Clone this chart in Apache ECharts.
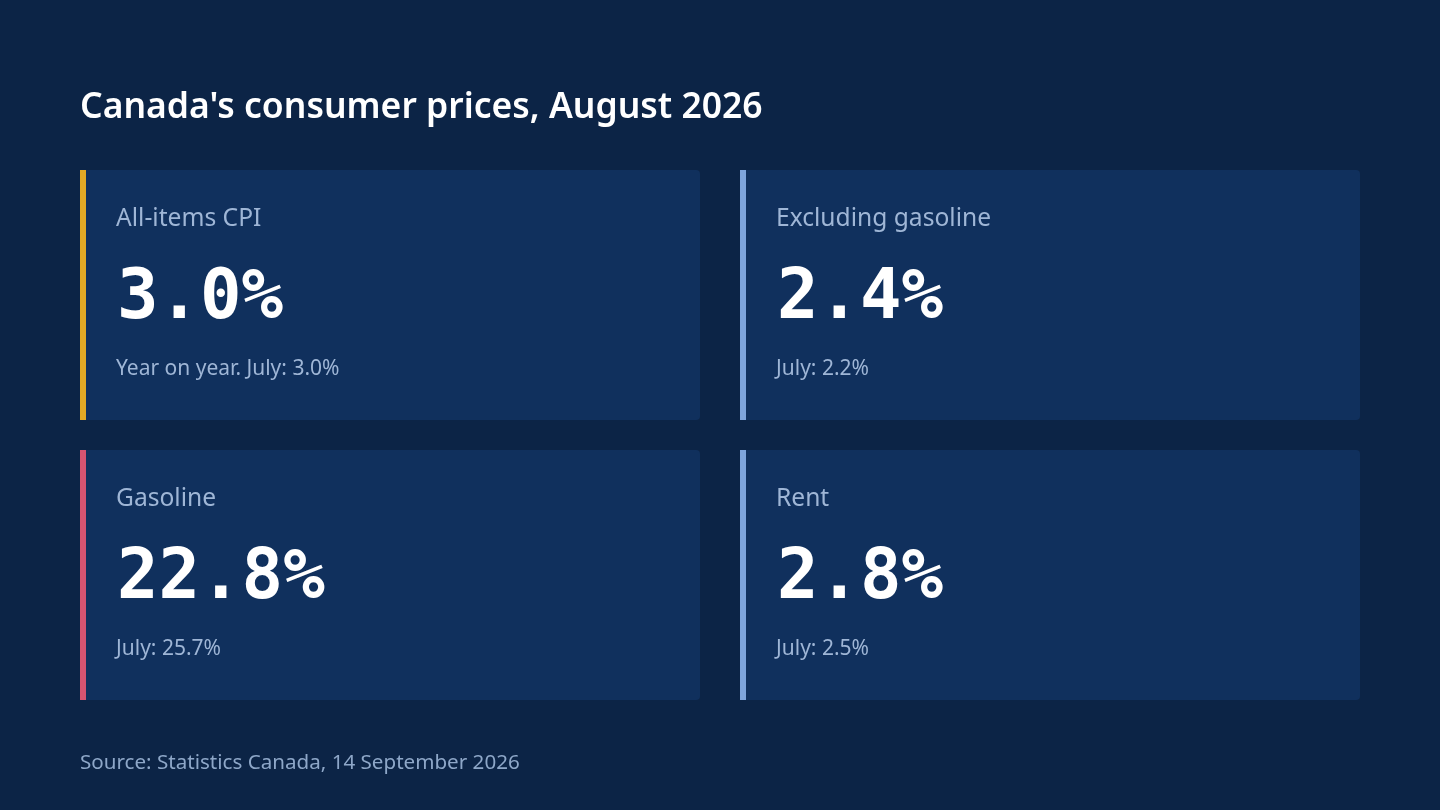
<!DOCTYPE html>
<html>
<head>
<meta charset="utf-8">
<script src="https://cdn.jsdelivr.net/npm/echarts@6/dist/echarts.min.js"></script>
<style>
  html, body { margin: 0; padding: 0; background: #0c2446; }
  #main { width: 1440px; height: 810px; }
</style>
</head>
<body>
<div id="main"></div>
<script>
var titleText = "Canada's consumer prices, August 2026";
var sourceText = 'Source: Statistics Canada, 14 September 2026';

var labels = ['All-items CPI', 'Excluding gasoline', 'Gasoline', 'Rent'];
var values = [3.0, 2.4, 22.8, 2.8];
var notes = ['Year on year. July: 3.0%', 'July: 2.2%', 'July: 25.7%', 'July: 2.5%'];
var accents = ['#e2a925', '#7ea5dc', '#d65471', '#7ea5dc'];

var chart = echarts.init(document.getElementById('main'));

// card grid
var colX = [80, 740];
var rowY = [170, 450];
var cardW = 620, cardH = 250;

var sans = '"Segoe UI", "Noto Sans", "Open Sans", sans-serif';
var mono = '"DejaVu Sans Mono", monospace';

var elements = [];
labels.forEach(function (lab, i) {
  var x = colX[i % 2], y = rowY[Math.floor(i / 2)];
  elements.push({
    type: 'rect',
    shape: { x: x, y: y, width: cardW, height: cardH, r: [0, 4, 4, 0] },
    style: { fill: '#10305d' }
  });
  elements.push({
    type: 'rect',
    shape: { x: x, y: y, width: 6, height: cardH },
    style: { fill: accents[i] }
  });
  elements.push({
    type: 'text',
    x: x + 36, y: y + 49,
    style: { text: lab, fill: '#9fb6d6', font: '24.6px ' + sans, verticalAlign: 'middle' }
  });
  elements.push({
    type: 'text',
    x: x + 37, y: y + 130,
    style: { text: values[i].toFixed(1) + '%', fill: '#ffffff', font: 'bold 69px ' + mono, verticalAlign: 'middle' }
  });
  elements.push({
    type: 'text',
    x: x + 36, y: y + 199,
    style: { text: notes[i], fill: '#9fb6d6', font: '21px ' + sans, verticalAlign: 'middle' }
  });
});

elements.push({
  type: 'text',
  x: 80, y: 108,
  style: { text: titleText, fill: '#ffffff', font: '600 35.5px ' + sans, verticalAlign: 'middle' }
});
elements.push({
  type: 'text',
  x: 80, y: 763,
  style: { text: sourceText, fill: '#8ea7c8', font: '20.6px ' + sans, verticalAlign: 'middle' }
});

chart.setOption({
  backgroundColor: '#0c2446',
  graphic: { elements: elements }
});
</script>
</body>
</html>
